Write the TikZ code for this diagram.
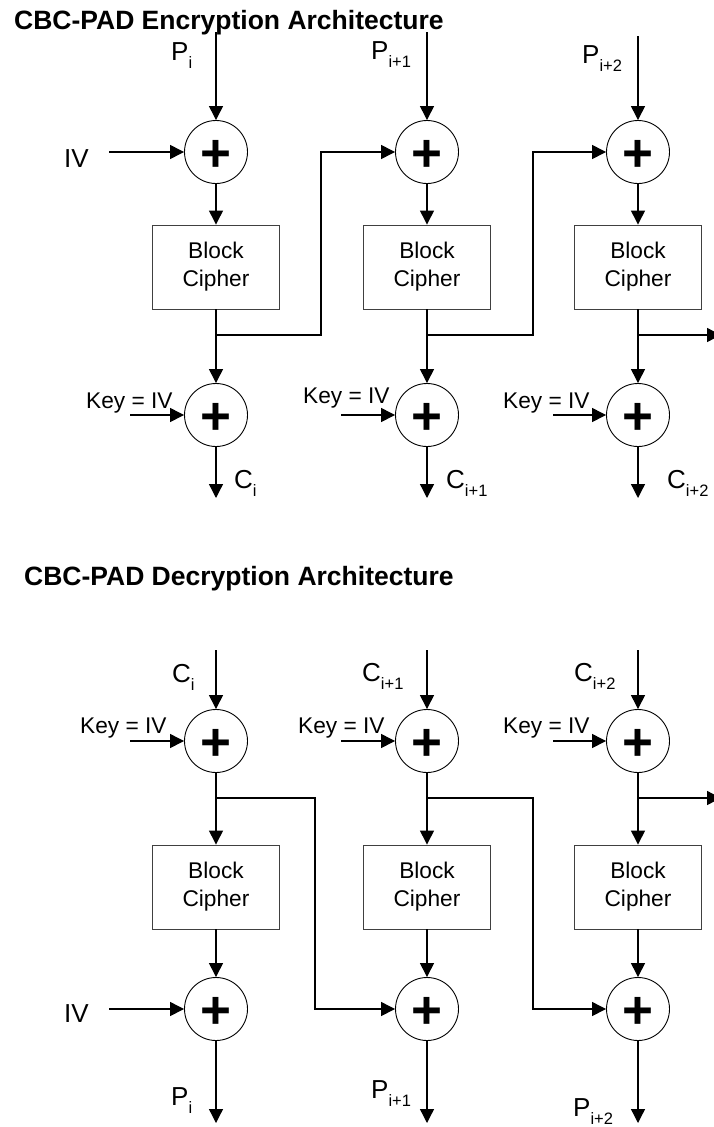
\documentclass[tikz,border=0pt]{standalone}
\usepackage{fontspec}
\setmainfont{Liberation Sans}
\usetikzlibrary{arrows.meta}
\newcommand{\subs}[1]{\raisebox{-8.5pt}{\fontsize{16.5}{16.5}\selectfont #1}}
\begin{document}
\begin{tikzpicture}[x=1pt,y=-1pt,
  arr/.style={line width=1.3pt, -{Triangle[length=14pt,width=14pt]}},
  ln/.style={line width=1.3pt},
  xorc/.style={circle, draw, line width=0.9pt, minimum size=63pt, inner sep=0pt},
  plussign/.style={inner sep=0pt, anchor=base, font=\fontsize{53}{53}\selectfont\bfseries},
  cipher/.style={draw=black!75, line width=0.9pt, minimum width=127pt, minimum height=84pt, inner sep=0pt, align=center, font=\fontsize{22.7}{28}\selectfont},
  lab/.style={anchor=base west, inner sep=0pt, font=\fontsize{26}{26}\selectfont},
  keylab/.style={anchor=base west, inner sep=0pt, font=\fontsize{22.7}{22.7}\selectfont},
  titlelab/.style={anchor=base west, inner sep=0pt, font=\fontsize{26.5}{26.5}\selectfont\bfseries}
]
\path[use as bounding box, clip] (0,0) rectangle (714,1127);

% ---------------- Encryption ----------------
\node[titlelab] (etitle) at (14,29) {CBC-PAD Encryption Architecture};

\foreach \n/\x in {1/216,2/427,3/638}{
  \node[xorc] (et\n) at (\x,152) {};
  \node[plussign] (etp\n) at (\x,171) {+};
  \node[cipher] (eb\n) at (\x,267) {Block\\Cipher};
  \node[xorc] (eo\n) at (\x,415) {};
  \node[plussign] (eop\n) at (\x,434) {+};
  \coordinate (ein\n) at (\x,32);
  \coordinate (eout\n) at (\x,498);
  \coordinate (eJ\n) at (\x,335);
}
\coordinate (ein3) at (638,36);

\node[lab] (lPi) at (171,60) {P\subs{i}};
\node[lab] (lPi1) at (371,59) {P\subs{i+1}};
\node[lab] (lPi2) at (582,63) {P\subs{i+2}};
\node[lab] (eIV) at (64,167) {IV};
\node[lab] (lCi) at (234,488) {C\subs{i}};
\node[lab] (lCi1) at (446,488) {C\subs{i+1}};
\node[lab] (lCi2) at (667,488) {C\subs{i+2}};
\node[keylab] (ek1) at (86,408) {Key = IV};
\node[keylab] (ek2) at (303,403) {Key = IV};
\node[keylab] (ek3) at (503,408) {Key = IV};

\coordinate (eivs) at (109,152);
\coordinate (eks1) at (130,415);
\coordinate (eks2) at (341,415);
\coordinate (eks3) at (553,415);
\coordinate (eK1) at (321,335);
\coordinate (eK2) at (533,335);
\coordinate (eK3) at (721,335);

\foreach \n in {1,2,3}{
  \draw[arr] (ein\n) -- (et\n);
  \draw[arr] (et\n) -- (eb\n);
  \draw[arr] (eb\n) -- (eo\n);
  \draw[arr] (eo\n) -- (eout\n);
  \draw[arr] (eks\n) -- (eo\n);
}
\draw[arr] (eivs) -- (et1);
\draw[arr] (eJ1) -- (eK1) |- (et2.west);
\draw[arr] (eJ2) -- (eK2) |- (et3.west);
\draw[arr] (eJ3) -- (eK3);

% ---------------- Decryption ----------------
\node[titlelab] (dtitle) at (24,585) {CBC-PAD Decryption Architecture};

\foreach \n/\x in {1/216,2/427,3/638}{
  \node[xorc] (dt\n) at (\x,741) {};
  \node[plussign] (dtp\n) at (\x,760) {+};
  \node[cipher] (db\n) at (\x,887) {Block\\Cipher};
  \node[xorc] (do\n) at (\x,1009) {};
  \node[plussign] (dop\n) at (\x,1028) {+};
  \coordinate (din\n) at (\x,650);
  \coordinate (dout\n) at (\x,1123);
  \coordinate (dJ\n) at (\x,798);
}

\node[lab] (dCi) at (172,682) {C\subs{i}};
\node[lab] (dCi1) at (362,681) {C\subs{i+1}};
\node[lab] (dCi2) at (574,681) {C\subs{i+2}};
\node[lab] (dIV) at (64,1022) {IV};
\node[lab] (dPi) at (171,1105) {P\subs{i}};
\node[lab] (dPi1) at (371,1098) {P\subs{i+1}};
\node[lab] (dPi2) at (573,1116) {P\subs{i+2}};
\node[keylab] (dk1) at (80,733) {Key = IV};
\node[keylab] (dk2) at (298,733) {Key = IV};
\node[keylab] (dk3) at (503,733) {Key = IV};

\coordinate (divs) at (109,1009);
\coordinate (dks1) at (130,741);
\coordinate (dks2) at (341,741);
\coordinate (dks3) at (553,741);
\coordinate (dK1) at (315,798);
\coordinate (dK2) at (533,798);
\coordinate (dK3) at (721,798);

\foreach \n in {1,2,3}{
  \draw[arr] (din\n) -- (dt\n);
  \draw[arr] (dt\n) -- (db\n);
  \draw[arr] (db\n) -- (do\n);
  \draw[arr] (do\n) -- (dout\n);
  \draw[arr] (dks\n) -- (dt\n);
}
\draw[arr] (divs) -- (do1);
\draw[arr] (dJ1) -- (dK1) |- (do2.west);
\draw[arr] (dJ2) -- (dK2) |- (do3.west);
\draw[arr] (dJ3) -- (dK3);
\end{tikzpicture}
\end{document}
